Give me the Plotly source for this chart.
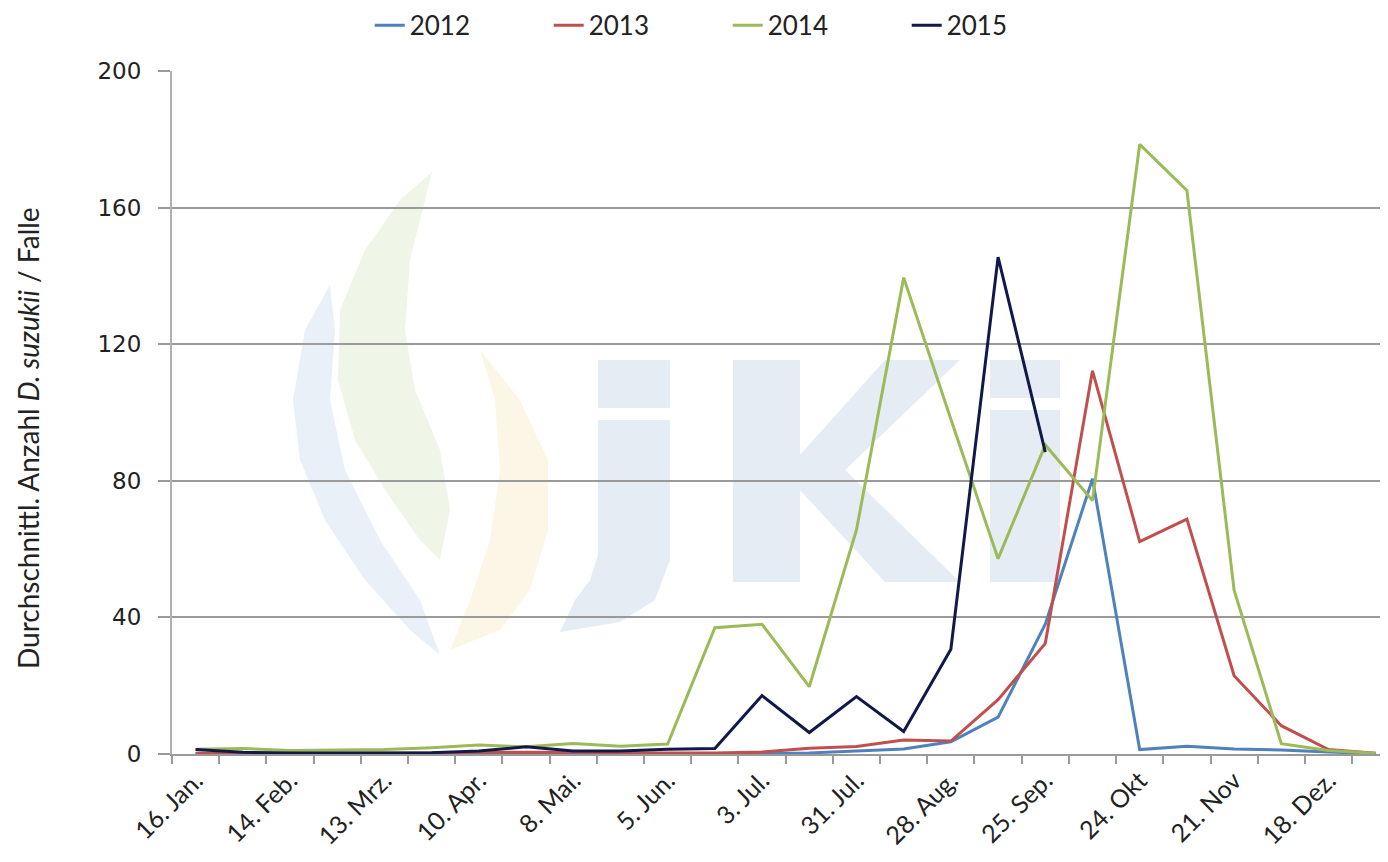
import plotly.graph_objects as go

# ---- data ----
dates = ["16. Jan.", "30. Jan.", "14. Feb.", "28. Feb.", "13. Mrz.", "27. Mrz.",
         "10. Apr.", "24. Apr.", "8. Mai.", "22. Mai.", "5. Jun.", "19. Jun.",
         "3. Jul.", "17. Jul.", "31. Jul.", "14. Aug.", "28. Aug.", "11. Sep.",
         "25. Sep.", "9. Okt", "24. Okt", "7. Nov", "21. Nov", "5. Dez.",
         "18. Dez.", "31. Dez."]
shown_labels = dates[::2]

y2012 = [0, 0, 0, 0, 0, 0, 0, 0, 0, 0, 0, 0,
         0.1, 0.3, 0.8, 1.5, 3.6, 10.8, 38, 80.6, 1.3, 2.3, 1.5, 1.2, 0.6, 0.1]
y2013 = [0.2, 0.2, 0.2, 0.2, 0.2, 0.3, 0.5, 0.6, 0.5, 0.3, 0.3, 0.3,
         0.6, 1.7, 2.2, 4.1, 3.8, 15.9, 32.4, 112.2, 62.2, 68.8, 22.9, 8.3, 1.3, 0.2]
y2014 = [1.4, 1.6, 1.0, 1.2, 1.3, 1.8, 2.6, 2.1, 3.1, 2.3, 2.9, 37.0,
         38.0, 19.7, 65.6, 139.5, 98.0, 57.2, 90.5, 74.2, 178.5, 165.0, 48.0, 3.0, 1.0, 0.2]
y2015 = [1.3, 0.5, 0.3, 0.3, 0.3, 0.4, 0.9, 2.1, 0.9, 0.9, 1.4, 1.6,
         17.1, 6.3, 16.8, 6.6, 30.7, 145.5, 88.4]

series = [("2012", y2012, "#4F81BD"),
          ("2013", y2013, "#C0504D"),
          ("2014", y2014, "#9BBB59"),
          ("2015", y2015, "#10194A")]

y_ticks = [0, 40, 80, 120, 160, 200]

FONT = "Lato"

fig = go.Figure()
for name, vals, col in series:
    fig.add_trace(go.Scatter(x=dates[:len(vals)], y=vals, name=name, mode="lines",
                             line=dict(color=col, width=3)))

# page offset of the plotly div (browser body margin)
OFF = 8
W, H = 1388 - OFF, 862 - OFF
# plot area in page pixels
L, R, T, B = 172, 1388, 71, 754

# ---- faint JKI watermark (decorative) ----
def px(x):
    return (x - L) / (R - L)
def py(y):
    return (B - y) / (B - T)
def path(pts):
    return "M " + " L ".join(f"{px(a):.4f},{py(b):.4f}" for a, b in pts) + " Z"

letter = "rgba(214,223,235,0.6)"
shapes = []
def rect(x0, y0, x1, y1, col=letter):
    shapes.append(dict(type="rect", xref="paper", yref="paper", x0=px(x0), x1=px(x1),
                       y0=py(y1), y1=py(y0), fillcolor=col, line=dict(width=0), layer="below"))
def poly(pts, col):
    shapes.append(dict(type="path", xref="paper", yref="paper", layer="below",
                       path=path(pts), fillcolor=col, line=dict(width=0)))
# j
rect(598, 360, 670, 408)
poly([(598, 420), (670, 420), (670, 560), (655, 600), (620, 622),
      (560, 632), (575, 600), (590, 580), (598, 555)], letter)
# K
rect(733, 360, 800, 582)
poly([(800, 455), (885, 360), (960, 360), (845, 470), (960, 582),
      (885, 582), (800, 490)], letter)
# i
rect(990, 360, 1060, 398)
rect(990, 410, 1060, 582)
# flame
poly([(330, 285), (305, 330), (293, 400), (300, 460), (325, 520), (365, 580),
      (410, 630), (440, 655), (420, 600), (380, 540), (345, 470), (330, 400),
      (335, 330)], "rgba(215,228,242,0.55)")
poly([(432, 172), (400, 200), (365, 250), (340, 310), (338, 380), (355, 440),
      (385, 490), (420, 540), (440, 560), (450, 510), (440, 450), (415, 390),
      (405, 330), (410, 260)], "rgba(228,238,215,0.6)")
poly([(480, 350), (520, 400), (548, 460), (548, 530), (530, 590), (500, 630),
      (450, 650), (470, 600), (490, 540), (500, 470), (495, 400)],
     "rgba(250,240,215,0.6)")

fig.update_layout(
    width=W, height=H,
    margin=dict(l=L - OFF, r=0, t=T - OFF, b=H - (B - OFF), autoexpand=False),
    paper_bgcolor="white", plot_bgcolor="rgba(0,0,0,0)",
    font=dict(family=FONT, size=24, color="#222222"),
    shapes=shapes,
    showlegend=True,
    legend=dict(orientation="h", x=0.457, xanchor="center", y=1.067, yanchor="middle",
                font=dict(family=FONT, size=26, color="#222222"),
                entrywidth=134, entrywidthmode="pixels", bgcolor="rgba(0,0,0,0)"),
    annotations=[dict(text="Durchschnittl. Anzahl <i>D. suzukii</i> / Falle",
                      xref="paper", yref="paper", x=px(28), y=py(438),
                      xanchor="center", yanchor="middle", textangle=-90, showarrow=False,
                      font=dict(family=FONT, size=28, color="#222222"))],
)

fig.update_xaxes(
    type="category", categoryorder="array", categoryarray=dates,
    range=[-0.5, 25.26],
    tickmode="array", tickvals=dates,
    ticktext=[d if d in shown_labels else "" for d in dates],
    tickson="boundaries", ticks="outside", ticklen=8, tickwidth=1.5, tickcolor="#9a9a9a",
    tickangle=-45, tickfont=dict(family=FONT, size=25, color="#222222"),
    showline=True, linecolor="#9a9a9a", linewidth=2,
    showgrid=False, zeroline=False,
)
fig.update_yaxes(
    range=[0, 200], tickmode="array", tickvals=y_ticks,
    ticks="outside", ticklen=12, tickwidth=1.5, tickcolor="#9a9a9a",
    ticklabelstandoff=12,
    tickfont=dict(family="DejaVu Sans", size=23, color="#222222"),
    showline=True, linecolor="#b0b0b0", linewidth=2,
    showgrid=True, gridcolor="#9a9a9a", gridwidth=1.5,
    zeroline=False,
)

fig.write_html("out.html")
